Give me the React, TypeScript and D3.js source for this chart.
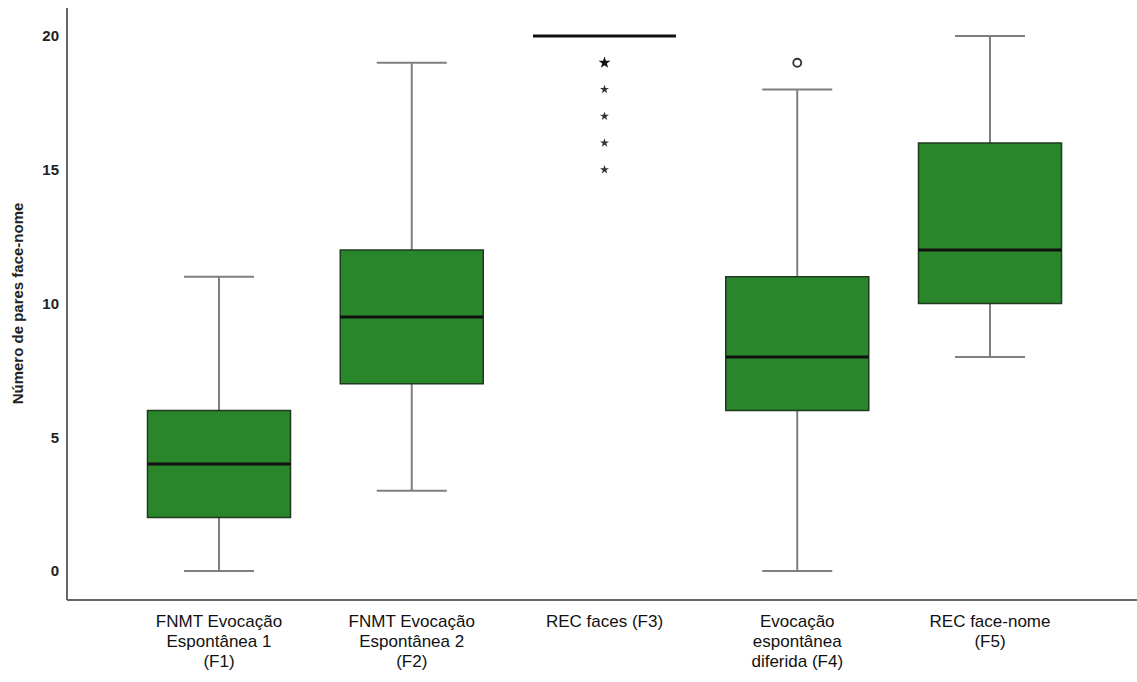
import React, { useEffect, useRef } from 'react';
import * as d3 from 'd3';

const categories = [
  ['FNMT Evocação', 'Espontânea 1', '(F1)'],
  ['FNMT Evocação', 'Espontânea 2', '(F2)'],
  ['REC faces (F3)'],
  ['Evocação', 'espontânea', 'diferida (F4)'],
  ['REC face-nome', '(F5)'],
];
const mins = [0, 3, 20, 0, 8];
const q1s = [2, 7, 20, 6, 10];
const medians = [4, 9.5, 20, 8, 12];
const q3s = [6, 12, 20, 11, 16];
const maxs = [11, 19, 20, 18, 20];
// outliers: [category index, value, kind]
const outliers = [
  { i: 2, v: 19, kind: 'star-bold' },
  { i: 2, v: 18, kind: 'star' },
  { i: 2, v: 17, kind: 'star' },
  { i: 2, v: 16, kind: 'star' },
  { i: 2, v: 15, kind: 'star' },
  { i: 3, v: 19, kind: 'circle' },
];
const yTicks = [0, 5, 10, 15, 20];

const App = () => {
  const ref = useRef<SVGSVGElement>(null);

  useEffect(() => {
    const svg = d3.select(ref.current);
    svg.selectAll('*').remove();
    const width = 1137;
    const height = 682;
    const axisX = 67;
    const axisY = 600;

    const idx = categories.map((_, i) => i);
    const x = d3.scalePoint<number>().domain(idx).range([219, 990]);
    const y = d3.scaleLinear().domain([0, 20]).range([571, 36]);
    const boxW = 143;
    const capW = 70;

    svg.attr('width', width).attr('height', height);

    const g = svg.append('g');

    // whiskers
    idx.forEach(i => {
      const cx = x(i)!;
      if (mins[i] === maxs[i]) return;
      g.append('line').attr('x1', cx).attr('x2', cx).attr('y1', y(q3s[i])).attr('y2', y(maxs[i]))
        .attr('stroke', '#7f7f7f').attr('stroke-width', 2);
      g.append('line').attr('x1', cx).attr('x2', cx).attr('y1', y(q1s[i])).attr('y2', y(mins[i]))
        .attr('stroke', '#7f7f7f').attr('stroke-width', 2);
      g.append('line').attr('x1', cx - capW / 2).attr('x2', cx + capW / 2).attr('y1', y(maxs[i])).attr('y2', y(maxs[i]))
        .attr('stroke', '#7f7f7f').attr('stroke-width', 2);
      g.append('line').attr('x1', cx - capW / 2).attr('x2', cx + capW / 2).attr('y1', y(mins[i])).attr('y2', y(mins[i]))
        .attr('stroke', '#7f7f7f').attr('stroke-width', 2);
    });

    // boxes
    idx.forEach(i => {
      const cx = x(i)!;
      if (q3s[i] > q1s[i]) {
        g.append('rect')
          .attr('x', cx - boxW / 2).attr('y', y(q3s[i]))
          .attr('width', boxW).attr('height', y(q1s[i]) - y(q3s[i]))
          .attr('fill', '#2a862a').attr('stroke', '#1f3a1f').attr('stroke-width', 1.5);
      }
      g.append('line')
        .attr('x1', cx - boxW / 2).attr('x2', cx + boxW / 2)
        .attr('y1', y(medians[i])).attr('y2', y(medians[i]))
        .attr('stroke', '#111').attr('stroke-width', 3);
    });

    // outliers
    const star = d3.symbol().type(d3.symbolStar);
    outliers.forEach(o => {
      const cx = x(o.i)!;
      const cy = y(o.v);
      if (o.kind === 'circle') {
        g.append('circle').attr('cx', cx).attr('cy', cy).attr('r', 4)
          .attr('fill', 'white').attr('stroke', '#333').attr('stroke-width', 1.8);
      } else {
        g.append('path')
          .attr('d', star.size(o.kind === 'star-bold' ? 45 : 25)())
          .attr('transform', `translate(${cx},${cy})`)
          .attr('fill', o.kind === 'star-bold' ? '#111' : '#333');
      }
    });

    // axes
    svg.append('line').attr('x1', axisX).attr('x2', axisX).attr('y1', 8).attr('y2', axisY)
      .attr('stroke', '#666').attr('stroke-width', 2);
    svg.append('line').attr('x1', axisX).attr('x2', width).attr('y1', axisY).attr('y2', axisY)
      .attr('stroke', '#666').attr('stroke-width', 2);

    svg.append('g').selectAll('text').data(yTicks).join('text')
      .attr('x', 59).attr('y', d => y(d)).attr('dy', '0.35em')
      .attr('text-anchor', 'end')
      .attr('font-family', 'Liberation Sans, Arial, sans-serif')
      .attr('font-size', 15).attr('font-weight', 'bold').attr('fill', '#222')
      .text(d => d);

    svg.append('text')
      .attr('transform', `translate(23,${y(10)}) rotate(-90)`)
      .attr('text-anchor', 'middle')
      .attr('font-family', 'Liberation Sans, Arial, sans-serif')
      .attr('font-size', 15).attr('font-weight', 'bold').attr('fill', '#222')
      .text('Número de pares face-nome');

    idx.forEach(i => {
      const t = svg.append('text')
        .attr('text-anchor', 'middle')
        .attr('font-family', 'Liberation Sans, Arial, sans-serif')
        .attr('font-size', 17).attr('fill', '#111');
      categories[i].forEach((line, k) => {
        t.append('tspan').attr('x', x(i)!).attr('y', 627 + k * 20).text(line);
      });
    });
  }, []);

  return <svg ref={ref} style={{ display: 'block', position: 'absolute', left: 0, top: 0 }} />;
};

export default App;
